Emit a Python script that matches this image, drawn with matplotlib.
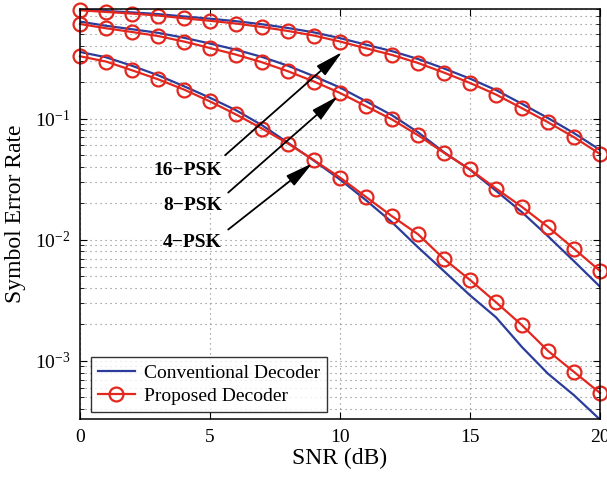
import numpy as np
import matplotlib
matplotlib.use('Agg')
import matplotlib.pyplot as plt
from matplotlib.ticker import LogLocator, NullFormatter

plt.rcParams['font.family'] = ['Liberation Serif', 'DejaVu Serif']
plt.rcParams['mathtext.fontset'] = 'custom'
plt.rcParams['mathtext.rm'] = 'Liberation Serif'
plt.rcParams['mathtext.it'] = 'Liberation Serif:italic'
plt.rcParams['mathtext.bf'] = 'Liberation Serif:bold'

snr = np.arange(0, 21)

# conventional decoder (blue lines)
conv_16psk = [0.793, 0.772, 0.752, 0.728, 0.696, 0.667, 0.636, 0.600, 0.559, 0.514, 0.461,
              0.407, 0.360, 0.310, 0.259, 0.2135, 0.1718, 0.1322, 0.1009, 0.0758, 0.0551]
conv_8psk = [0.631, 0.583, 0.546, 0.510, 0.464, 0.416, 0.370, 0.3224, 0.2727, 0.2234, 0.1803,
             0.1389, 0.1065, 0.0771, 0.0527, 0.0378, 0.02538, 0.01686, 0.01069, 0.00665, 0.00410]
conv_4psk = [0.3542, 0.3205, 0.2727, 0.2277, 0.1848, 0.1484, 0.1171, 0.0881, 0.0631, 0.0449, 0.0314,
             0.02118, 0.01394, 0.00867, 0.00550, 0.00348, 0.00229, 0.00130, 0.000784, 0.000521, 0.000328]

# proposed decoder (red circles)
prop_16psk = [0.783, 0.758, 0.735, 0.708, 0.672, 0.641, 0.608, 0.570, 0.528, 0.484, 0.432,
              0.380, 0.335, 0.2875, 0.2395, 0.1967, 0.1578, 0.1216, 0.0932, 0.0701, 0.0510]
prop_8psk = [0.603, 0.556, 0.518, 0.480, 0.432, 0.382, 0.337, 0.2914, 0.2456, 0.2020, 0.1626,
             0.1264, 0.0983, 0.0728, 0.0522, 0.0380, 0.02645, 0.01865, 0.01275, 0.00843, 0.00553]
prop_4psk = [0.3266, 0.2954, 0.2503, 0.2110, 0.1735, 0.1384, 0.1081, 0.0827, 0.0622, 0.0453, 0.0326,
             0.02254, 0.01563, 0.01110, 0.00694, 0.00466, 0.00305, 0.00197, 0.00121, 0.000811, 0.000544]

# annotations: label, text anchor (right/center), arrow tail, arrow tip
labels = ['16\u2212PSK', '8\u2212PSK', '4\u2212PSK']
label_pos = [(5.46, 0.0374), (5.46, 0.0193), (5.46, 0.00954)]
arrow_tail = [(5.58, 0.0498), (5.70, 0.0245), (5.70, 0.01214)]
arrow_tip = [(10.08, 0.354), (9.92, 0.1528), (8.94, 0.04277)]

blue = '#2B3C9B'
red = '#E2271F'

fig = plt.figure(figsize=(6.07, 4.8), dpi=100)
ax = fig.add_axes([0.1318, 0.1265, 0.8567, 0.8545])

for i, y in enumerate([conv_16psk, conv_8psk, conv_4psk]):
    ax.semilogy(snr, y, color=blue, lw=1.6, label='Conventional Decoder' if i == 0 else None)
for i, y in enumerate([prop_16psk, prop_8psk, prop_4psk]):
    ax.semilogy(snr, y, color=red, lw=1.6, marker='o', ms=10, mfc='none', mew=1.6,
                clip_on=False, label='Proposed Decoder' if i == 0 else None)

for lab, p, t0, t1 in zip(labels, label_pos, arrow_tail, arrow_tip):
    ax.text(p[0], p[1], lab, ha='right', va='center', fontsize=14, fontweight='bold')
    ax.annotate('', xy=t1, xytext=t0,
                arrowprops=dict(arrowstyle='-|>,head_length=1.3,head_width=0.3',
                                mutation_scale=13, lw=1.3, color='k',
                                shrinkA=0, shrinkB=0))

ax.set_xlim(0, 20)
ax.set_ylim(3.3e-4, 0.8)
ax.set_xticks([0, 5, 10, 15, 20])
ax.yaxis.set_major_locator(LogLocator(base=10, numticks=10))
ax.yaxis.set_minor_locator(LogLocator(base=10, subs=np.arange(2, 10), numticks=20))
ax.yaxis.set_minor_formatter(NullFormatter())

ax.tick_params(which='both', direction='in', top=True, right=True, labelsize=14)
ax.tick_params(which='major', length=5, width=0.8, pad=7)
ax.tick_params(which='minor', length=3, width=0.6)
ax.grid(True, which='major', color='0.5', linestyle=(0, (1, 3.5)), lw=0.8)
ax.grid(True, which='minor', axis='y', color='0.5', linestyle=(0, (1, 3.5)), lw=0.8)
for s in ax.spines.values():
    s.set_linewidth(1.1)

ax.set_xlabel('SNR (dB)', fontsize=17, labelpad=1)
ax.set_ylabel('Symbol Error Rate', fontsize=17, labelpad=6)

leg = ax.legend(loc='lower left', bbox_to_anchor=(0.021, 0.018), fontsize=14, frameon=True,
                fancybox=False, edgecolor='k', handlelength=1.9, borderpad=0.35,
                labelspacing=0.3, handletextpad=0.5, borderaxespad=0)
leg.get_frame().set_linewidth(1.0)

fig.savefig('out.png', dpi=100)
